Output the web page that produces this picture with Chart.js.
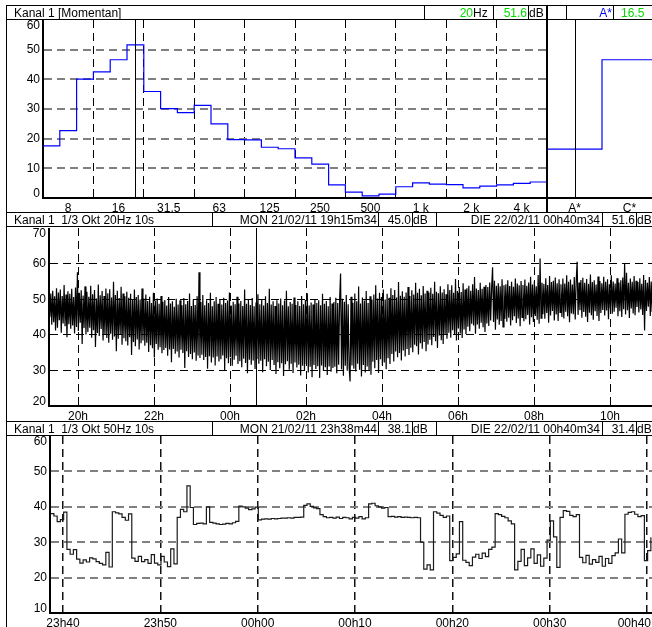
<!DOCTYPE html>
<html>
<head>
<meta charset="utf-8">
<script src="https://cdn.jsdelivr.net/npm/chart.js@4.4.1/dist/chart.umd.min.js"></script>
<style>
html, body { margin:0; padding:0; width:652px; height:627px; overflow:hidden; background:#fff; }
body { position:relative; font-family: Arial, "Liberation Sans", sans-serif; font-size:12px; }
canvas { position:absolute; }
.hl { position:absolute; left:6px; width:660px; height:1px; background:#000; }
.vl { position:absolute; width:1px; height:14px; background:#000; }
.t { position:absolute; line-height:14px; white-space:pre; color:#000; }
.r { text-align:right; }
.g { color:#00dd00; }
.b { color:#0000ff; }
</style>
</head>
<body>
<canvas id="spec" width="547" height="192" style="left:0;top:20px"></canvas>
<canvas id="weights" width="110" height="192" style="left:547px;top:20px"></canvas>
<canvas id="trend" width="700" height="192" style="left:0;top:228px"></canvas>
<canvas id="detail" width="700" height="191" style="left:0;top:436px"></canvas>

<!-- frame -->
<div class="vl" style="left:6px;top:5px;height:622px"></div>
<div style="position:absolute;left:546px;top:5px;width:2px;height:207px;background:#000"></div>

<!-- header 1 -->
<div class="hl" style="top:5px"></div>
<div class="hl" style="top:19px"></div>
<div class="vl" style="left:424px;top:5px"></div>
<div class="vl" style="left:493px;top:5px"></div>
<div class="vl" style="left:528px;top:5px"></div>
<div class="vl" style="left:566px;top:5px"></div>
<div class="vl" style="left:613px;top:5px"></div>
<div class="t" style="left:14px;top:6px">Kanal 1 [Momentan]</div>
<div class="t r g" style="left:424px;width:49px;top:6px">20</div>
<div class="t" style="left:473px;top:6px">Hz</div>
<div class="t r g" style="left:493px;width:34px;top:6px">51.6</div>
<div class="t" style="left:529px;top:6px">dB</div>
<div class="t r b" style="left:566px;width:46px;top:6px">A*</div>
<div class="t g" style="left:621px;top:6px">16.5</div>

<!-- header 2 -->
<div class="hl" style="top:212px"></div>
<div class="hl" style="top:226px"></div>
<div class="vl" style="left:212px;top:212px"></div>
<div class="vl" style="left:378px;top:212px"></div>
<div class="vl" style="left:412px;top:212px"></div>
<div class="vl" style="left:436px;top:212px"></div>
<div class="vl" style="left:602px;top:212px"></div>
<div class="vl" style="left:636px;top:212px"></div>
<div class="t" style="left:14px;top:213px">Kanal 1  1/3 Okt 20Hz 10s</div>
<div class="t r" style="left:212px;width:165px;top:213px">MON 21/02/11 19h15m34</div>
<div class="t r" style="left:378px;width:33px;top:213px">45.0</div>
<div class="t" style="left:413px;top:213px">dB</div>
<div class="t r" style="left:436px;width:164px;top:213px">DIE 22/02/11 00h40m34</div>
<div class="t r" style="left:602px;width:33px;top:213px">51.6</div>
<div class="t" style="left:637px;top:213px">dB</div>

<!-- header 3 -->
<div class="hl" style="top:421px"></div>
<div class="hl" style="top:435px"></div>
<div class="vl" style="left:212px;top:421px"></div>
<div class="vl" style="left:378px;top:421px"></div>
<div class="vl" style="left:412px;top:421px"></div>
<div class="vl" style="left:436px;top:421px"></div>
<div class="vl" style="left:602px;top:421px"></div>
<div class="vl" style="left:636px;top:421px"></div>
<div class="t" style="left:14px;top:422px">Kanal 1  1/3 Okt 50Hz 10s</div>
<div class="t r" style="left:212px;width:165px;top:422px">MON 21/02/11 23h38m44</div>
<div class="t r" style="left:378px;width:33px;top:422px">38.1</div>
<div class="t" style="left:413px;top:422px">dB</div>
<div class="t r" style="left:436px;width:164px;top:422px">DIE 22/02/11 00h40m34</div>
<div class="t r" style="left:602px;width:33px;top:422px">31.4</div>
<div class="t" style="left:637px;top:422px">dB</div>

<script>
// 1/3 octave spectrum, 6.3 Hz .. 5 kHz
var bandLabels = ['6.3','8','10','12.5','16','20','25','31.5','40','50','63','80','100','125','160',
  '200','250','315','400','500','630','800','1 k','1.25 k','1.6 k','2 k','2.5 k','3.15 k','4 k','5 k'];
var bandLevels = [17.6, 22.7, 40.1, 42.5, 46.6, 51.6, 35.9, 30.1, 28.8, 31.2, 25.0, 19.7, 19.6, 17.1, 16.6,
  13.5, 11.4, 4.4, 2.0, 0.7, 1.3, 3.8, 5.1, 4.7, 4.5, 3.4, 4.0, 4.4, 4.9, 5.4];
var specTickLabels = ['8','16','31.5','63','125','250','500','1 k','2 k','4 k'];

var weightLabels = ['A*','C*'];
var weightLevels = [16.5, 46.6];

// 20 Hz band, 19h15m34 .. 11h, one value per 1.5 min (hours past midnight of day 1)
var trendStart = 19.2594;
var trendStep = 0.025;
var band20Hz = [
  45.0, 51.6, 42.8, 52.4, 43.5, 50.8, 41.2, 53.1, 42.0, 51.9, 44.1, 52.7, 40.6, 50.9, 43.2, 54.0, 42.4, 51.3, 39.3, 52.2,
  43.0, 51.5, 41.7, 52.9, 42.6, 50.6, 40.4, 53.3, 42.2, 57.6, 41.1, 51.8, 43.4, 52.5, 37.4, 51.0, 41.9, 53.6, 40.1, 52.1,
  40.8, 50.7, 42.0, 53.8, 39.2, 51.4, 41.3, 52.6, 36.6, 50.2, 40.5, 54.1, 39.7, 51.1, 41.6, 52.3, 38.4, 50.9, 40.0, 53.0,
  39.1, 51.7, 37.8, 52.8, 40.3, 50.5, 38.6, 54.9, 39.5, 51.2, 35.4, 52.4, 38.9, 50.3, 40.1, 53.5, 37.2, 51.6, 39.0, 50.8,
  38.2, 52.1, 37.0, 50.4, 39.3, 51.5, 34.3, 49.8, 38.0, 52.7, 36.8, 50.6, 38.7, 51.2, 35.9, 49.9, 37.6, 53.0, 38.4, 50.2,
  36.9, 51.3, 37.8, 49.5, 35.2, 50.7, 37.1, 48.9, 36.2, 51.8, 33.6, 49.6, 37.4, 50.2, 35.8, 48.7, 36.5, 50.9, 34.8, 49.3,
  35.7, 49.8, 36.3, 48.2, 34.1, 50.6, 35.9, 48.8, 32.3, 49.4, 36.0, 47.9, 34.7, 50.1, 35.3, 48.5, 33.6, 49.7, 35.8, 48.3,
  34.9, 50.3, 30.7, 48.6, 35.4, 49.5, 33.8, 51.6, 34.6, 48.1, 33.1, 49.9, 35.0, 48.4, 32.7, 50.8, 34.2, 57.6, 33.5, 49.2,
  34.4, 51.2, 32.9, 48.3, 33.8, 49.7, 30.5, 48.9, 34.0, 51.8, 32.2, 48.0, 33.6, 49.4, 31.4, 50.6, 33.9, 48.7, 32.5, 49.9,
  33.1, 48.5, 34.2, 50.4, 29.8, 48.9, 33.4, 49.6, 32.0, 51.9, 33.7, 48.2, 31.3, 49.3, 33.0, 48.6, 34.1, 50.7, 31.8, 48.8,
  32.6, 49.5, 30.9, 48.1, 33.3, 52.7, 32.1, 48.7, 29.2, 49.8, 33.0, 48.4, 31.6, 50.3, 32.8, 48.0, 30.4, 49.1, 33.2, 51.4,
  31.9, 48.6, 32.7, 49.9, 29.5, 48.2, 33.1, 50.8, 31.2, 48.9, 32.4, 52.9, 30.1, 48.5, 32.9, 49.4, 31.5, 48.1, 29.0, 49.7,
  32.3, 48.8, 30.6, 50.2, 32.0, 48.3, 28.4, 49.6, 31.7, 52.4, 32.6, 48.0, 30.2, 49.2, 31.9, 48.7, 29.3, 50.5, 32.2, 48.4,
  30.8, 49.4, 31.6, 48.1, 28.6, 50.9, 31.3, 48.6, 30.1, 49.8, 31.8, 51.7, 29.4, 48.2, 31.0, 49.1, 28.1, 48.5, 31.5, 50.0,
  30.4, 48.9, 31.2, 49.7, 27.9, 48.3, 31.4, 51.5, 29.8, 48.7, 30.9, 49.5, 28.7, 48.0, 31.1, 50.6, 29.6, 48.8, 30.7, 49.2,
  31.0, 50.4, 29.2, 48.9, 31.6, 49.8, 57.2, 30.3, 50.1, 28.5, 49.3, 31.3, 51.2, 29.9, 48.6, 30.8, 26.9, 50.7, 31.4, 49.0,
  30.5, 51.6, 29.7, 49.4, 31.9, 53.6, 30.2, 48.8, 28.3, 50.5, 31.5, 49.6, 29.4, 52.3, 31.1, 48.9, 30.0, 50.8, 28.8, 49.9,
  32.4, 51.3, 30.6, 53.9, 32.9, 50.2, 29.3, 51.8, 33.1, 50.6, 31.4, 52.7, 32.2, 49.9, 30.3, 51.5, 33.4, 50.4, 31.8, 53.1,
  34.6, 51.2, 32.5, 52.6, 35.3, 50.5, 33.7, 54.8, 34.9, 51.0, 32.8, 52.2, 35.6, 50.7, 33.9, 51.9, 36.0, 53.4, 34.3, 50.9,
  36.4, 52.5, 35.1, 51.3, 37.2, 54.6, 36.8, 51.8, 34.5, 52.9, 37.6, 51.1, 36.1, 53.7, 38.0, 51.6, 35.4, 52.4, 37.3, 51.9,
  38.6, 53.2, 37.1, 51.5, 39.4, 54.9, 38.2, 52.1, 36.3, 51.7, 39.8, 53.6, 38.5, 51.9, 37.4, 52.8, 40.1, 51.4, 38.9, 54.2,
  40.6, 52.6, 39.2, 53.9, 41.3, 51.8, 40.0, 55.7, 38.4, 52.3, 41.8, 53.4, 40.4, 52.0, 39.1, 54.5, 41.5, 52.7, 40.2, 53.1,
  42.3, 53.8, 41.0, 52.4, 43.1, 54.2, 42.6, 56.2, 40.3, 53.0, 42.9, 52.6, 41.7, 54.6, 43.4, 52.9, 42.1, 53.5, 40.8, 54.0,
  43.2, 53.4, 42.5, 54.7, 44.0, 53.1, 59.0, 43.6, 55.2, 41.4, 53.8, 44.3, 54.5, 42.8, 53.6, 43.9, 55.6, 42.2, 53.9, 44.5,
  54.2, 43.7, 55.3, 44.8, 53.7, 42.6, 54.9, 44.1, 53.5, 45.2, 55.8, 43.3, 54.4, 44.6, 53.9, 42.4, 55.1, 44.9, 54.0, 43.8,
  55.5, 44.4, 53.8, 45.6, 54.7, 42.9, 56.3, 44.9, 54.1, 43.6, 55.0, 45.3, 53.6, 44.2, 56.8, 43.1, 61.4, 44.7, 54.6, 45.8,
  54.3, 44.5, 55.9, 46.1, 54.0, 43.4, 56.5, 45.4, 54.8, 46.7, 55.2, 44.0, 56.1, 45.7, 54.5, 43.9, 55.6, 46.3, 54.2, 45.0,
  55.8, 44.6, 54.4, 46.5, 56.7, 45.2, 54.9, 43.5, 55.5, 46.0, 54.1, 45.8, 56.2, 44.3, 55.0, 60.5, 45.6, 54.7, 46.9, 55.4,
  44.8, 56.0, 46.4, 54.6, 45.1, 55.7, 43.6, 54.3, 46.2, 56.9, 45.5, 54.8, 44.2, 55.3, 46.6, 54.1, 45.3, 56.4, 43.9, 55.1,
  46.1, 54.5, 47.0, 56.3, 45.4, 54.9, 46.8, 55.6, 44.4, 54.2, 47.3, 56.7, 45.9, 55.0, 46.5, 54.4, 47.6, 55.9, 45.2, 54.7,
  46.6, 55.3, 45.0, 56.1, 47.2, 60.0, 45.7, 57.4, 46.9, 54.6, 44.7, 55.8, 47.4, 54.9, 46.0, 56.5, 45.5, 55.2, 47.8, 54.8,
  46.3, 55.9, 47.1, 54.3, 45.6, 56.8, 41.2, 55.4, 46.7, 54.6, 47.9, 56.2, 45.3, 55.0, 46.4, 57.0, 47.5, 54.5, 46.1, 55.7
];
var trendTickHours = [20, 22, 24, 26, 28, 30, 32, 34];
var trendTickLabels = ['20h', '22h', '00h', '02h', '04h', '06h', '08h', '10h'];
var trendCursor = 24.6761; // 00h40m34

// 50 Hz band, 23h38m44 .. 00h40m34, one value per 20 s (minutes from midnight)
var detailStart = -21.267;
var detailStep = 1 / 3;
var band50Hz = [
  38.1, 37.4, 35.8, 36.4, 38.5, 28.0, 26.6, 27.9, 25.2, 24.1,
  25.0, 24.4, 25.6, 25.3, 24.5, 24.0, 23.6, 27.1, 23.0, 38.6,
  38.3, 38.0, 37.0, 36.2, 38.0, 25.5, 24.6, 26.0, 24.5, 25.1,
  24.0, 26.5, 24.1, 23.6, 26.0, 24.4, 23.1, 28.1, 23.9, 37.0,
  39.3, 38.6, 45.9, 39.8, 35.0, 35.3, 35.4, 35.2, 40.0, 35.6,
  35.4, 35.2, 35.0, 35.1, 35.3, 35.2, 35.5, 35.9, 40.2, 40.0,
  39.6, 39.2, 39.4, 39.9, 36.3, 36.5, 36.6, 36.5, 36.7, 36.6,
  36.7, 36.8, 36.8, 36.9, 36.8, 37.0, 37.0, 37.1, 40.4, 40.8,
  40.1, 39.7, 39.5, 37.8, 37.2, 36.9, 37.0, 36.8, 37.1, 36.7,
  37.0, 36.9, 36.6, 37.0, 36.8, 37.2, 36.6, 36.9, 40.8, 41.0,
  40.3, 40.0, 39.6, 39.8, 37.2, 37.3, 37.1, 37.2, 37.0, 37.1,
  37.0, 36.9, 37.0, 36.9, 30.0, 22.4, 23.6, 22.2, 38.6, 38.2,
  37.6, 37.0, 37.4, 24.8, 25.7, 26.7, 35.8, 24.9, 24.3, 23.4,
  25.8, 26.6, 25.4, 26.9, 25.9, 28.0, 28.6, 38.1, 37.8, 37.3,
  36.9, 36.0, 35.2, 22.2, 24.6, 28.0, 23.4, 25.6, 28.1, 24.0,
  26.4, 23.2, 25.5, 30.6, 36.0, 31.5, 22.9, 37.0, 38.9, 38.7,
  37.6, 37.2, 37.8, 25.7, 24.2, 26.3, 23.8, 25.1, 24.3, 26.0,
  23.2, 25.4, 24.0, 26.2, 27.0, 30.9, 27.0, 37.9, 38.4, 38.6,
  37.9, 37.2, 37.5, 24.8, 27.6, 31.4
];
var detailTickMinutes = [-20, -10, 0, 10, 20, 30, 40];
var detailTickLabels = ['23h40', '23h50', '00h00', '00h10', '00h20', '00h30', '00h40'];

Chart.defaults.font.family = 'Arial, "Liberation Sans", sans-serif';
Chart.defaults.font.size = 12;
Chart.defaults.color = '#000';

// keep the end labels inside the plot / window, like the instrument does
var clampLabels = {
  id: 'clampLabels',
  beforeDraw: function(chart, args, opts) {
    var s = chart.scales.y;
    if (s && s.options.display && s.options.ticks.display) {
      s.getLabelItems().forEach(function(item) {
        var tr = item.options && item.options.translation;
        if (!tr) return;
        tr[1] = Math.min(Math.max(tr[1], s.top + 6), s.bottom - 4);
      });
    }
    var sx = chart.scales.x;
    if (sx && opts.xMax !== undefined) {
      var ctx = chart.ctx;
      sx.getLabelItems().forEach(function(item) {
        var tr = item.options && item.options.translation;
        if (!tr) return;
        ctx.font = item.font.string;
        var w = ctx.measureText(item.label).width;
        tr[0] = Math.min(tr[0], opts.xMax - w / 2);
      });
    }
  }
};

var cursor = {
  id: 'cursor',
  afterDatasetsDraw: function(chart, args, opts) {
    if (opts.value === undefined) return;
    var x = Math.round(chart.scales.x.getPixelForValue(opts.value)) + 0.5;
    var a = chart.chartArea;
    var ctx = chart.ctx;
    ctx.save();
    ctx.strokeStyle = '#000';
    ctx.lineWidth = 1;
    ctx.beginPath();
    ctx.moveTo(x, a.top);
    ctx.lineTo(x, a.bottom);
    ctx.stroke();
    ctx.restore();
  }
};

function fixedTicks(values) {
  return function(s) { s.ticks = values.map(function(v) { return {value: v}; }); };
}
function fitX(s) {
  s.height = 14;
  s.paddingLeft = 0; s.paddingRight = 0; s.paddingTop = 0; s.paddingBottom = 0;
}
function fitY(w) {
  return function(s) {
    s.width = w;
    s.paddingLeft = 0; s.paddingRight = 0; s.paddingTop = 0; s.paddingBottom = 0;
  };
}
function hideEdges(lo, hi, color) {
  return function(c) {
    if (!c.tick || c.tick.value === lo || c.tick.value === hi) return 'rgba(0,0,0,0)';
    return color;
  };
}
var base = {
  responsive: false,
  animation: false,
  events: [],
  layout: { padding: 0 },
  plugins: { legend: { display: false }, tooltip: { enabled: false } }
};
function opts(extra, cursorValue) {
  var o = Object.assign({}, base, extra);
  o.plugins = Object.assign({}, base.plugins, { cursor: { value: cursorValue }, clampLabels: { xMax: 651 } });
  return o;
}

// top: spectrum
var specPoints = bandLevels.map(function(v, i) { return {x: i, y: v}; });
specPoints.push({x: bandLevels.length, y: bandLevels[bandLevels.length - 1]});
var specTicks = specTickLabels.map(function(l, k) { return k * 3; }).concat([bandLevels.length]);

new Chart(document.getElementById('spec'), {
  type: 'line',
  data: { datasets: [{ data: specPoints, borderColor: '#0000ff', borderWidth: 1.2, pointRadius: 0, stepped: 'before', fill: false }] },
  options: opts({
    scales: {
      x: {
        type: 'linear', min: 0, max: bandLevels.length,
        afterBuildTicks: fixedTicks(specTicks),
        afterFit: fitX,
        ticks: { autoSkip: false, maxRotation: 0, labelOffset: 25, padding: 3,
          callback: function(v, i) { return specTickLabels[i] || ''; } },
        grid: { drawTicks: false, lineWidth: 1, color: hideEdges(0, bandLevels.length, '#000') },
        border: { color: '#000', width: 2, dash: [8, 5] }
      },
      y: {
        min: 0, max: 60,
        afterFit: fitY(43),
        ticks: { stepSize: 10, padding: 3 },
        grid: { drawTicks: false, lineWidth: 2, color: hideEdges(0, 60, '#808080') },
        border: { color: '#000', width: 2, dash: [8, 5] }
      }
    }
  }, 5.5),
  plugins: [clampLabels, cursor]
});

// top right: A* / C*
var weightPoints = weightLevels.map(function(v, i) { return {x: i, y: v}; });
weightPoints.push({x: weightLevels.length, y: weightLevels[weightLevels.length - 1]});

new Chart(document.getElementById('weights'), {
  type: 'line',
  data: { datasets: [{ data: weightPoints, borderColor: '#0000ff', borderWidth: 1.2, pointRadius: 0, stepped: 'before', fill: false }] },
  options: opts({
    scales: {
      x: {
        type: 'linear', min: 0, max: weightLevels.length,
        afterBuildTicks: fixedTicks([0.5, 1.5]),
        afterFit: fitX,
        ticks: { autoSkip: false, maxRotation: 0, padding: 3,
          callback: function(v, i) { return weightLabels[i]; } },
        grid: { drawOnChartArea: false, drawTicks: false },
        border: { color: '#000', width: 2 }
      },
      y: {
        min: 0, max: 60,
        afterFit: fitY(0),
        ticks: { display: false, stepSize: 10 },
        grid: { display: false },
        border: { display: false }
      }
    }
  }, 0.5),
  plugins: [cursor]
});

// middle: 20 Hz band over the night
var trendPoints = band20Hz.map(function(v, i) { return {x: trendStart + i * trendStep, y: v}; });

new Chart(document.getElementById('trend'), {
  type: 'line',
  data: { datasets: [{ data: trendPoints, borderColor: '#000', borderWidth: 1.2, pointRadius: 0, tension: 0, fill: false }] },
  options: opts({
    scales: {
      x: {
        type: 'linear', min: 19.2368, max: 36.368,
        afterBuildTicks: fixedTicks(trendTickHours),
        afterFit: fitX,
        ticks: { autoSkip: false, maxRotation: 0, padding: 3,
          callback: function(v, i) { return trendTickLabels[i]; } },
        grid: { drawTicks: false, lineWidth: 1, color: '#000' },
        border: { color: '#000', width: 2, dash: [8, 5] }
      },
      y: {
        min: 20, max: 70,
        afterFit: fitY(49),
        ticks: { stepSize: 10, padding: 3 },
        grid: { drawTicks: false, lineWidth: 1, color: hideEdges(20, 70, '#000') },
        border: { color: '#000', width: 2, dash: [8, 5] }
      }
    }
  }, trendCursor),
  plugins: [clampLabels, cursor]
});

// bottom: 50 Hz band, last hour
var detailPoints = band50Hz.map(function(v, i) { return {x: detailStart + i * detailStep, y: v}; });

new Chart(document.getElementById('detail'), {
  type: 'line',
  data: { datasets: [{ data: detailPoints, borderColor: '#1a1a1a', borderWidth: 1.2, pointRadius: 0, stepped: 'before', fill: false }] },
  options: opts({
    scales: {
      x: {
        type: 'linear', min: -21.336, max: 45.447,
        afterBuildTicks: fixedTicks(detailTickMinutes),
        afterFit: fitX,
        ticks: { autoSkip: false, maxRotation: 0, padding: 3,
          callback: function(v, i) { return detailTickLabels[i]; } },
        grid: { drawTicks: false, lineWidth: 1.5, color: '#111' },
        border: { color: '#000', width: 2, dash: [8, 5] }
      },
      y: {
        min: 10, max: 60,
        afterFit: fitY(50),
        ticks: { stepSize: 10, padding: 3 },
        grid: { drawTicks: false, lineWidth: 2, color: hideEdges(10, 60, '#808080') },
        border: { color: '#000', width: 2, dash: [8, 5] }
      }
    }
  }),
  plugins: [clampLabels, cursor]
});
</script>
</body>
</html>
